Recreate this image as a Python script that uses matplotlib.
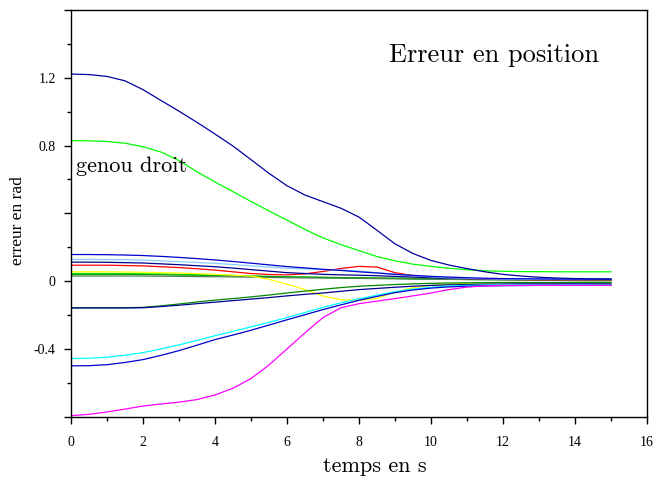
import matplotlib
matplotlib.use("Agg")
import matplotlib.pyplot as plt

# time samples (s)
t = [0, 0.5, 1, 1.5, 2, 2.5, 3, 3.5, 4, 4.5, 5, 5.5, 6, 6.5, 7, 7.5,
     8, 8.5, 9, 9.5, 10, 10.5, 11, 11.5, 12, 12.5, 13, 13.5, 14, 14.5, 15]

# position errors (rad)
e_navy_big = [1.222, 1.219, 1.208, 1.182, 1.13, 1.066, 1.003, 0.937, 0.868, 0.797, 0.717, 0.636, 0.563, 0.508, 0.469, 0.43,
              0.378, 0.3, 0.22, 0.163, 0.122, 0.095, 0.074, 0.055, 0.04, 0.03, 0.023, 0.018, 0.015, 0.013, 0.012]
e_lime_big = [0.829, 0.828, 0.824, 0.814, 0.793, 0.762, 0.712, 0.645, 0.585, 0.528, 0.47, 0.414, 0.36, 0.305, 0.255, 0.215,
              0.18, 0.145, 0.12, 0.1, 0.087, 0.076, 0.067, 0.061, 0.058, 0.056, 0.056, 0.055, 0.055, 0.055, 0.055]
e_blue_top = [0.157, 0.157, 0.156, 0.154, 0.151, 0.146, 0.14, 0.133, 0.125, 0.116, 0.106, 0.096, 0.086, 0.078, 0.07, 0.063,
              0.055, 0.048, 0.04, 0.034, 0.028, 0.024, 0.02, 0.017, 0.015, 0.014, 0.013, 0.012, 0.012, 0.012, 0.012]
e_lightblue = [0.128, 0.128, 0.127, 0.126, 0.124, 0.12, 0.115, 0.11, 0.105, 0.098, 0.09, 0.083, 0.076, 0.072, 0.068, 0.065,
               0.06, 0.05, 0.04, 0.032, 0.025, 0.02, 0.017, 0.014, 0.012, 0.011, 0.01, 0.01, 0.01, 0.01, 0.01]
e_navy_mid = [0.112, 0.112, 0.111, 0.109, 0.107, 0.102, 0.097, 0.091, 0.085, 0.077, 0.068, 0.059, 0.05, 0.045, 0.04, 0.037,
              0.035, 0.032, 0.028, 0.024, 0.02, 0.017, 0.015, 0.013, 0.012, 0.011, 0.01, 0.01, 0.01, 0.01, 0.01]
e_red = [0.094, 0.094, 0.094, 0.092, 0.09, 0.085, 0.08, 0.073, 0.065, 0.055, 0.045, 0.039, 0.037, 0.043, 0.057, 0.075,
         0.087, 0.083, 0.05, 0.032, 0.025, 0.019, 0.015, 0.012, 0.01, 0.009, 0.008, 0.008, 0.008, 0.008, 0.008]
e_yellow = [0.055, 0.055, 0.055, 0.054, 0.052, 0.05, 0.048, 0.044, 0.04, 0.035, 0.03, 0.01, -0.018, -0.05, -0.088, -0.11,
            -0.113, -0.102, -0.065, -0.038, -0.025, -0.017, -0.013, -0.011, -0.01, -0.01, -0.01, -0.01, -0.01, -0.01, -0.01]
e_lime_flat = [0.045, 0.045, 0.045, 0.044, 0.043, 0.042, 0.04, 0.038, 0.035, 0.033, 0.03, 0.028, 0.025, 0.023, 0.021, 0.02,
               0.018, 0.016, 0.015, 0.013, 0.012, 0.011, 0.01, 0.009, 0.008, 0.007, 0.007, 0.006, 0.006, 0.005, 0.005]
e_green_flat = [0.04, 0.04, 0.04, 0.04, 0.039, 0.038, 0.036, 0.035, 0.033, 0.031, 0.029, 0.027, 0.025, 0.024, 0.023, 0.021,
                0.02, 0.019, 0.018, 0.017, 0.016, 0.015, 0.014, 0.013, 0.012, 0.011, 0.01, 0.009, 0.008, 0.007, 0.006]
e_dkgreen_flat = [0.03, 0.03, 0.03, 0.03, 0.03, 0.029, 0.028, 0.027, 0.026, 0.025, 0.024, 0.022, 0.02, 0.019, 0.018, 0.017,
                  0.016, 0.015, 0.014, 0.012, 0.011, 0.01, 0.009, 0.008, 0.007, 0.006, 0.005, 0.004, 0.003, 0.002, 0.002]
e_green_low = [-0.158, -0.158, -0.158, -0.157, -0.155, -0.146, -0.135, -0.123, -0.112, -0.103, -0.093, -0.082, -0.07, -0.059, -0.048, -0.038,
               -0.03, -0.025, -0.02, -0.016, -0.013, -0.011, -0.01, -0.009, -0.008, -0.008, -0.008, -0.008, -0.008, -0.008, -0.008]
e_navy_low = [-0.158, -0.158, -0.158, -0.158, -0.157, -0.15, -0.142, -0.133, -0.124, -0.115, -0.106, -0.097, -0.087, -0.078, -0.07, -0.06,
              -0.05, -0.043, -0.036, -0.03, -0.025, -0.022, -0.02, -0.018, -0.017, -0.016, -0.016, -0.016, -0.016, -0.016, -0.016]
e_cyan = [-0.457, -0.455, -0.449, -0.437, -0.422, -0.4, -0.376, -0.35, -0.322, -0.296, -0.27, -0.243, -0.215, -0.185, -0.155, -0.128,
          -0.104, -0.083, -0.062, -0.047, -0.036, -0.029, -0.025, -0.023, -0.022, -0.022, -0.022, -0.022, -0.022, -0.022, -0.022]
e_blue_low = [-0.5, -0.499, -0.493, -0.48, -0.463, -0.438, -0.41, -0.378, -0.345, -0.318, -0.29, -0.259, -0.228, -0.198, -0.168, -0.14,
              -0.113, -0.09, -0.068, -0.052, -0.041, -0.034, -0.03, -0.028, -0.027, -0.026, -0.025, -0.025, -0.025, -0.025, -0.025]
e_magenta = [-0.794, -0.786, -0.772, -0.755, -0.737, -0.725, -0.714, -0.699, -0.672, -0.632, -0.575, -0.495, -0.4, -0.305, -0.215, -0.157,
             -0.133, -0.118, -0.103, -0.087, -0.07, -0.05, -0.035, -0.028, -0.025, -0.025, -0.025, -0.025, -0.025, -0.025, -0.025]

series = [
    (e_lime_flat, "#00ff00"),
    (e_green_flat, "#00a000"),
    (e_dkgreen_flat, "#508050"),
    (e_yellow, "#ffff00"),
    (e_red, "#ff0000"),
    (e_navy_mid, "#000090"),
    (e_lightblue, "#87ceff"),
    (e_blue_top, "#0000d0"),
    (e_green_low, "#008800"),
    (e_navy_low, "#000090"),
    (e_cyan, "#00ffff"),
    (e_blue_low, "#0000d0"),
    (e_magenta, "#ff00ff"),
    (e_lime_big, "#00ff00"),
    (e_navy_big, "#0000a0"),
]

xticks = [0, 2, 4, 6, 8, 10, 12, 14, 16]
yticks = [-0.8, -0.4, 0, 0.4, 0.8, 1.2, 1.6]
ytick_labels = ["", "-0.4", "0", "", "0.8", "1.2", ""]

plt.rcParams["axes.unicode_minus"] = False

fig = plt.figure(figsize=(6.56, 4.79), dpi=100)
ax = fig.add_axes([71 / 656, 1 - 416.7 / 479, 576 / 656, 406.7 / 479])

for vals, col in series:
    ax.plot(t, vals, color=col, linewidth=0.9)

ax.set_xlim(0, 16)
ax.set_ylim(-0.8, 1.6)
ax.set_xticks(xticks)
ax.set_xticks(range(1, 16, 2), minor=True)
ax.set_yticks(yticks)
ax.set_yticklabels(ytick_labels)
ax.set_yticks([-0.6, -0.2, 0.2, 0.6, 1.0, 1.4], minor=True)
ax.tick_params(which="major", direction="out", length=5, width=1, labelsize=10, top=False, right=False)
ax.tick_params(which="minor", direction="out", length=3, width=1, top=False, right=False)
ax.tick_params(axis="x", which="major", pad=9)
ax.tick_params(axis="y", which="major", pad=6)
for lab in ax.get_xticklabels() + ax.get_yticklabels():
    lab.set_family("Liberation Serif")
for sp in ax.spines.values():
    sp.set_linewidth(1.0)

ax.text(0.14, 0.68, "genou droit", family="cmr10", fontsize=16, va="center", ha="left")
fig.text(494 / 656, 1 - 55 / 479, "Erreur en position", family="cmr10", fontsize=19, ha="center", va="center")
fig.text(375 / 656, 1 - 466 / 479, "temps en s", family="cmr10", fontsize=16, ha="center", va="center")
fig.text(18 / 656, 1 - 221 / 479, "erreur en rad", family="Liberation Serif", fontsize=12.5,
         rotation=90, ha="center", va="center")

fig.savefig("out.png", dpi=100)
